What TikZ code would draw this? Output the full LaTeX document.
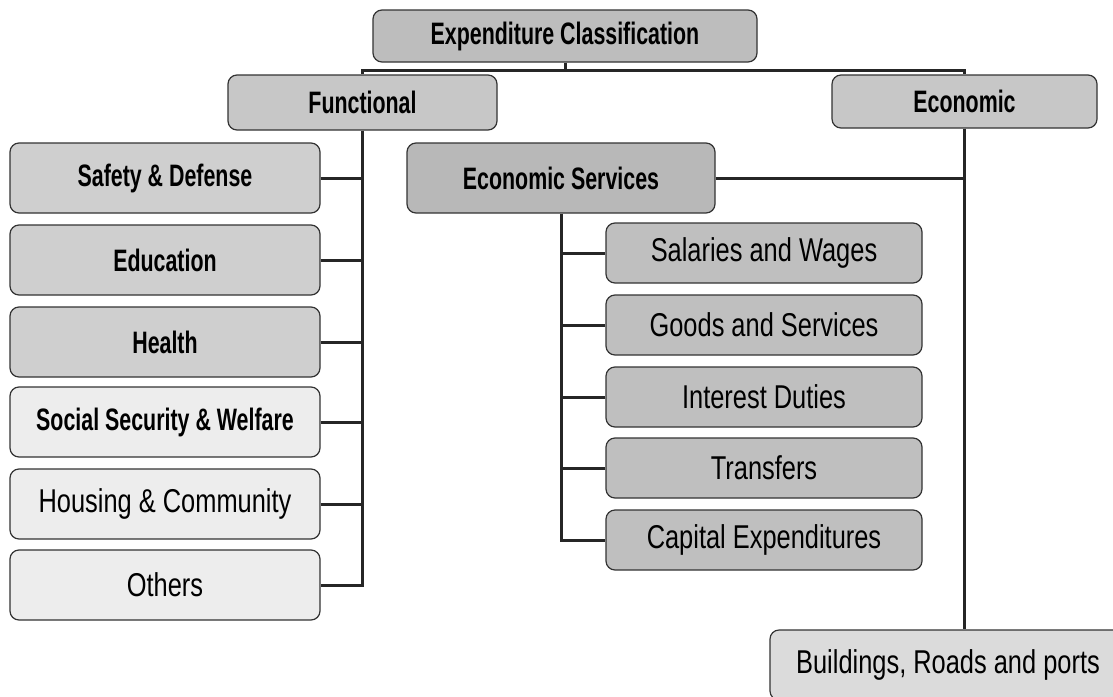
\documentclass[tikz,border=0pt]{standalone}
\usepackage{fontspec}
\newfontfamily\headfont[FakeStretch=0.69]{Liberation Sans}
\newfontfamily\itemfont[FakeStretch=0.77]{Liberation Sans}

\definecolor{rootgray}{gray}{0.74}
\definecolor{branchgray}{gray}{0.78}
\definecolor{funcgray}{gray}{0.81}
\definecolor{palegray}{gray}{0.93}
\definecolor{servgray}{gray}{0.72}
\definecolor{subgray}{gray}{0.75}
\definecolor{buildgray}{gray}{0.86}

\tikzset{
  box/.style={draw=black!80, line width=1.2pt, rounded corners=9pt, inner sep=0pt},
  headbox/.style={box, font=\headfont\bfseries\fontsize{31}{36}\selectfont},
  itembox/.style={box, font=\itemfont\fontsize{33}{38}\selectfont},
  leftbox/.style={minimum width=310pt, minimum height=70pt},
  subbox/.style={itembox, fill=subgray, minimum width=316pt, minimum height=60pt},
  link/.style={line width=3pt, black!85},
}

\begin{document}
\begin{tikzpicture}[x=1pt,y=-1pt]
  \useasboundingbox[fill=white] (0,0) rectangle (1113,696);

  % top level
  \node[headbox, fill=rootgray, minimum width=384pt, minimum height=52pt] (top) at (565,36) {Expenditure Classification};
  \node[headbox, fill=branchgray, minimum width=269pt, minimum height=55pt] (func) at (362.5,102.5) {Functional};
  \node[headbox, fill=branchgray, minimum width=265pt, minimum height=53pt] (econ) at (964.5,101.5) {Economic};

  % functional side
  \node[headbox, leftbox, fill=funcgray] (safety) at (165,178) {Safety \& Defense};
  \node[headbox, leftbox, fill=funcgray] (educ) at (165,260) {Education};
  \node[headbox, leftbox, fill=funcgray] (health) at (165,342) {Health};
  \node[headbox, leftbox, fill=palegray] (social) at (165,422) {Social Security \& Welfare};
  \node[itembox, leftbox, fill=palegray] (housing) at (165,504) {Housing \& Community};
  \node[itembox, leftbox, fill=palegray] (others) at (165,585) {Others};

  % economic side
  \node[headbox, fill=servgray, minimum width=308pt, minimum height=70pt] (ecserv) at (561,178) {Economic Services};
  \node[subbox] (salaries) at (764,253) {Salaries and Wages};
  \node[subbox] (goods) at (764,325) {Goods and Services};
  \node[subbox] (interest) at (764,397) {Interest Duties};
  \node[subbox] (transfers) at (764,468) {Transfers};
  \node[subbox] (capital) at (764,540) {Capital Expenditures};
  \node[itembox, fill=buildgray, minimum width=356pt, minimum height=70pt] (build) at (948,665) {Buildings, Roads and ports};

  % connectors
  \coordinate (bar) at (565,70);
  \draw[link] (top.south) -- (bar);
  \draw[link] (func.north) |- (bar) -| (econ.north);

  \draw[link] (func.south) |- (others.east);
  \foreach \n in {safety,educ,health,social,housing}
    \draw[link] (\n.east) -- (\n.east -| func.south);

  \draw[link] (econ.south) -- (econ.south |- build.north);
  \draw[link] (ecserv.east) -- (ecserv.east -| econ.south);

  \draw[link] (ecserv.south) |- (capital.west);
  \foreach \n in {salaries,goods,interest,transfers}
    \draw[link] (\n.west) -- (\n.west -| ecserv.south);
\end{tikzpicture}
\end{document}
